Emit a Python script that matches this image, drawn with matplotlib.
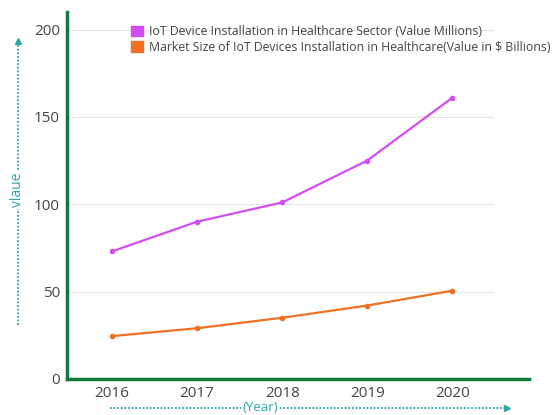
import matplotlib.pyplot as plt
from matplotlib.lines import Line2D
from matplotlib.patches import Patch

years = [2016, 2017, 2018, 2019, 2020]
devices = [73, 90, 101, 125, 161]
market = [24.5, 29, 35, 42, 50.5]
labels = ['IoT Device Installation in Healthcare Sector (Value Millions)',
          'Market Size of IoT Devices Installation in Healthcare(Value in $ Billions)']
yticks = [0, 50, 100, 150, 200]

purple = '#d24df2'
orange = '#f07024'
green = '#0f7a3c'
teal = '#2ea5a8'

plt.rcParams['font.family'] = ['Open Sans', 'DejaVu Sans']

fig = plt.figure(figsize=(5.58, 4.15), dpi=100)
ax = fig.add_axes([0.120, 0.087, 0.828, 0.884])

for v in yticks[1:]:
    ax.plot([2015.47, 2020.48], [v, v], color='#e6e6e6', lw=0.8, zorder=0)

ax.plot(years, devices, color=purple, lw=1.6, marker='o', ms=3)
ax.plot(years, market, color=orange, lw=1.6, marker='o', ms=3)

ax.set_xlim(2015.47, 2020.9)
ax.set_ylim(0, 210)
ax.set_xticks(years)
ax.set_yticks(yticks)
ax.tick_params(length=0, labelsize=11, colors='#444444', pad=5)
for s in ['top', 'right']:
    ax.spines[s].set_visible(False)
for s in ['left', 'bottom']:
    ax.spines[s].set_color(green)
    ax.spines[s].set_linewidth(2.5)

handles = [Patch(color=purple), Patch(color=orange)]
ax.legend(handles, labels, loc='upper left', bbox_to_anchor=(0.219, 0.96),
          bbox_transform=fig.transFigure, frameon=False, fontsize=8.8,
          handlelength=1.0, handleheight=0.95, handletextpad=0.5,
          labelspacing=0.2, labelcolor='#444444', borderpad=0.2)

# dotted axis-title arrows
fig.add_artist(Line2D([0.032, 0.032], [0.217, 0.895], color=teal, lw=1.3,
                      ls=(0, (1, 1)), transform=fig.transFigure))
fig.add_artist(Line2D([0.032], [0.9], color=teal, marker='^', ms=4,
                      transform=fig.transFigure))
fig.text(0.032, 0.542, 'vlaue', rotation=90, color=teal, fontsize=10,
         ha='center', va='center',
         bbox=dict(facecolor='white', edgecolor='none', pad=1.5))

fig.add_artist(Line2D([0.197, 0.905], [0.016, 0.016], color=teal, lw=1.3,
                      ls=(0, (1, 1)), transform=fig.transFigure))
fig.add_artist(Line2D([0.908], [0.016], color=teal, marker='>', ms=4,
                      transform=fig.transFigure))
fig.text(0.466, 0.018, '(Year)', color=teal, fontsize=9.5,
         ha='center', va='center',
         bbox=dict(facecolor='white', edgecolor='none', pad=1.0))

fig.savefig('out.png', dpi=100)
